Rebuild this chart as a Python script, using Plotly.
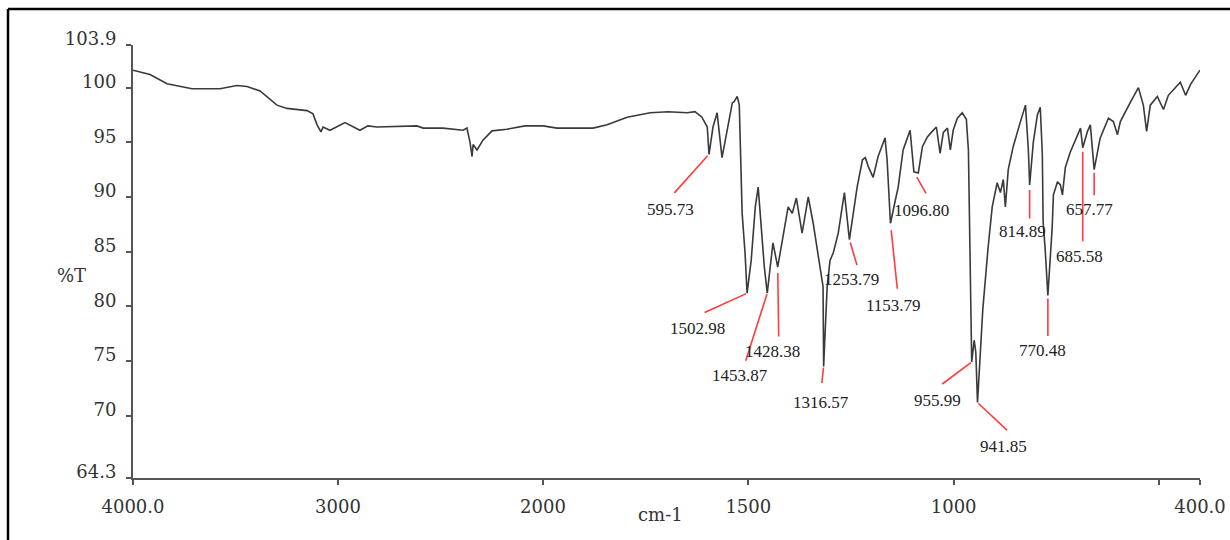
import plotly.graph_objects as go

# ---- spectrum data (wavenumber cm-1, %T) ----
wavenumber = [4000, 3917, 3834, 3756, 3712, 3576, 3493, 3444, 3380, 3298, 3249, 3151, 3122, 3102,
              3083, 3073, 3039, 2966, 2927, 2893, 2854, 2810, 2615, 2585, 2488, 2390, 2371, 2356,
              2346, 2341, 2322, 2293, 2249, 2176, 2088, 2000,
              1966, 1878, 1844, 1795, 1739, 1695, 1649, 1630, 1613, 1600, 1595.73, 1586, 1576, 1564,
              1552, 1539, 1535, 1527, 1522, 1520, 1515, 1508, 1502.98, 1493, 1483, 1476, 1471, 1461,
              1453.87, 1447, 1440, 1428.38, 1415, 1403, 1393, 1383, 1369, 1361, 1354, 1342, 1325, 1318,
              1316.57, 1308, 1301, 1293, 1281, 1266, 1253.79, 1235, 1222, 1215, 1208, 1196, 1184, 1167,
              1162, 1153.79, 1142, 1135, 1123, 1106, 1096.80, 1086, 1076, 1064, 1052, 1042, 1033, 1025,
              1015, 1008, 1001, 991, 979, 969, 964, 960, 957.5, 955.99, 950, 946, 941.85, 936, 929, 916,
              906, 894, 886, 879, 874, 867, 855, 838, 825, 818, 814.89, 806, 796, 789, 784, 782, 777,
              770.48, 760, 757, 747, 740, 735, 728, 716, 691, 685.58, 674, 667, 657.77, 643, 623, 611,
              601, 594, 569, 550, 538, 530, 521, 504, 489, 477, 448, 435, 423, 400]
transmittance = [101.6, 101.2, 100.35, 100.1, 99.9, 99.9, 100.2, 100.1, 99.7, 98.4, 98.1, 97.9, 97.6, 96.6,
                 95.96, 96.4, 96.1, 96.8, 96.4, 96.1, 96.5, 96.4, 96.5, 96.3, 96.3, 96.1, 96.3, 95.0,
                 93.7, 94.8, 94.3, 95.2, 96.05, 96.2, 96.5, 96.5,
                 96.3, 96.3, 96.6, 97.3, 97.7, 97.8, 97.7, 97.8, 97.3, 96.4, 93.9, 96.4, 97.7, 93.6,
                 95.9, 98.6, 98.7, 99.2, 98.4, 95.2, 88.5, 84.9, 81.2, 84.2, 89.1, 90.9, 88.5, 83.6,
                 81.2, 83.6, 85.8, 83.6, 86.7, 89.1, 88.5, 89.9, 86.7, 88.5, 90.0, 87.6, 83.6, 81.8,
                 74.5, 81.8, 84.2, 84.9, 86.7, 90.4, 86.1, 90.9, 93.4, 93.6, 92.8, 91.8, 93.7, 95.4,
                 93.4, 87.6, 89.7, 90.9, 94.3, 96.1, 92.3, 92.2, 94.6, 95.5, 96.0, 96.4, 94.0, 95.9,
                 96.3, 94.3, 96.1, 97.2, 97.7, 97.1, 94.3, 84.2, 77.6, 74.9, 76.9, 75.8, 71.2, 75.1, 79.7, 85.4,
                 89.1, 91.3, 90.4, 91.6, 89.1, 92.5, 94.6, 96.8, 98.4, 94.3, 91.1, 95.0, 97.5, 98.2, 93.9, 87.7, 85.2,
                 81.0, 87.2, 90.2, 91.4, 91.1, 90.2, 92.7, 94.1, 96.3, 94.5, 96.0, 96.6, 92.5, 95.4, 97.2, 96.9,
                 95.7, 96.9, 98.7, 100.0, 98.4, 96.0, 98.4, 99.2, 98.0, 99.3, 100.5, 99.3, 100.3, 101.6]

# ---- labelled peaks ----
peak_labels = ["595.73", "1502.98", "1453.87", "1428.38", "1316.57", "1253.79", "1153.79",
               "1096.80", "955.99", "941.85", "814.89", "770.48", "685.58", "657.77"]
peak_wn = [1595.73, 1502.98, 1453.87, 1428.38, 1316.57, 1253.79, 1153.79,
           1096.80, 955.99, 941.85, 814.89, 770.48, 685.58, 657.77]
peak_T = [93.9, 81.2, 81.2, 83.6, 74.5, 86.1, 87.6, 92.3, 74.9, 71.2, 91.1, 81.0, 94.5, 92.5]

# axis ticks
y_ticks = [64.3, 70, 75, 80, 85, 90, 95, 100, 103.9]
y_ticktext = ["64.3", "70", "75", "80", "85", "90", "95", "100", "103.9"]
x1_ticks = [4000, 3000, 2000]
x1_ticktext = ["4000.0", "3000", "2000"]
x2_ticks = [1500, 1000, 500, 400]
x2_ticktext = ["1500", "1000", "", "400.0"]

# ---- layout helpers (pixel offsets for leader lines and labels) ----
# (ax, ay, standoff, xshift, yshift)
label_layout = [(-36, 40, 2, -39, -55), (-44, 20, 1, -50, -35), (-22, 69, 1, -27, -82),
                (1, 71, 6, -5, -85), (-2, 18, 1, -3, -36), (8, 27, 3, 2, -40),
                (7, 67, 7, 3, -82), (13, 23, 6, 8, -39), (-31, 23, 1, -34, -38),
                (31, 29, 1, 26, -44), (0, 35, 5, -7, -47), (0, 42, 3, -5, -55),
                (0, 95, 4, -3, -109), (0, 27, 3, -5, -40)]

L, R, T, B = 133, 30, 45, 62
W, H = 1230, 540
pw = W - L - R
ph = H - T - B
split = (543 - L) / pw

left_x = [w for w in wavenumber if w >= 2000]
left_y = [t for w, t in zip(wavenumber, transmittance) if w >= 2000]
right_x = [w for w in wavenumber if w <= 2000]
right_y = [t for w, t in zip(wavenumber, transmittance) if w <= 2000]

line_style = dict(color="#3a3a3a", width=1.6)
fig = go.Figure()
fig.add_trace(go.Scatter(x=left_x, y=left_y, mode="lines", line=line_style,
                         xaxis="x", yaxis="y", showlegend=False, hoverinfo="skip"))
fig.add_trace(go.Scatter(x=right_x, y=right_y, mode="lines", line=line_style,
                         xaxis="x2", yaxis="y", showlegend=False, hoverinfo="skip"))

tickfont = dict(family="DejaVu Serif", size=18, color="#333")
axis_common = dict(showgrid=False, zeroline=False, showline=True, linecolor="#555", linewidth=2,
                   ticks="outside", ticklen=5, tickwidth=1.5, tickcolor="#555", tickfont=tickfont,
                   ticklabelstandoff=6, automargin=False)

red = "#ff3c3c"
annotations = []
for lab, wn, tv, (ax, ay, so, xs, ys) in zip(peak_labels, peak_wn, peak_T, label_layout):
    annotations.append(dict(x=wn, y=tv, xref="x2", yref="y", text="", showarrow=True,
                            arrowhead=0, arrowwidth=1.6, arrowcolor=red, ax=ax, ay=ay, standoff=so))
    annotations.append(dict(x=wn, y=tv, xref="x2", yref="y", text=lab, showarrow=False,
                            xshift=xs, yshift=ys,
                            font=dict(family="Liberation Serif", size=17, color="#222")))

annotations.append(dict(x=(55 - L) / pw, y=(H - B - 275) / ph, xref="paper", yref="paper",
                        text="%T", showarrow=False,
                        font=dict(family="DejaVu Serif", size=18, color="#333")))
annotations.append(dict(x=(660 - L) / pw, y=(H - B - 527) / ph, xref="paper", yref="paper",
                        text="cm-1", showarrow=False,
                        font=dict(family="DejaVu Serif", size=18, color="#333")))

shapes = [
    dict(type="line", xref="paper", yref="paper", x0=(8 - L) / pw, x1=(1240 - L) / pw,
         y0=(H - B - 9) / ph, y1=(H - B - 9) / ph, line=dict(color="black", width=2.5)),
    dict(type="line", xref="paper", yref="paper", x0=(8 - L) / pw, x1=(8 - L) / pw,
         y0=(H - B - 9) / ph, y1=(H - B - 560) / ph, line=dict(color="black", width=2.5)),
]

fig.update_layout(
    width=W, height=H,
    margin=dict(l=L, r=R, t=T, b=B, autoexpand=False),
    paper_bgcolor="white", plot_bgcolor="white",
    xaxis=dict(domain=[0, split], range=[4000, 2000], tickvals=x1_ticks, ticktext=x1_ticktext,
               anchor="y", **axis_common),
    xaxis2=dict(domain=[split, 1], range=[2000, 400], tickvals=x2_ticks, ticktext=x2_ticktext,
                anchor="y", **axis_common),
    yaxis=dict(range=[64.3, 103.9], tickvals=y_ticks, ticktext=y_ticktext, anchor="x",
               ticklabelshift=-6, **axis_common),
    annotations=annotations,
    shapes=shapes,
)

fig.write_html("out.html")
